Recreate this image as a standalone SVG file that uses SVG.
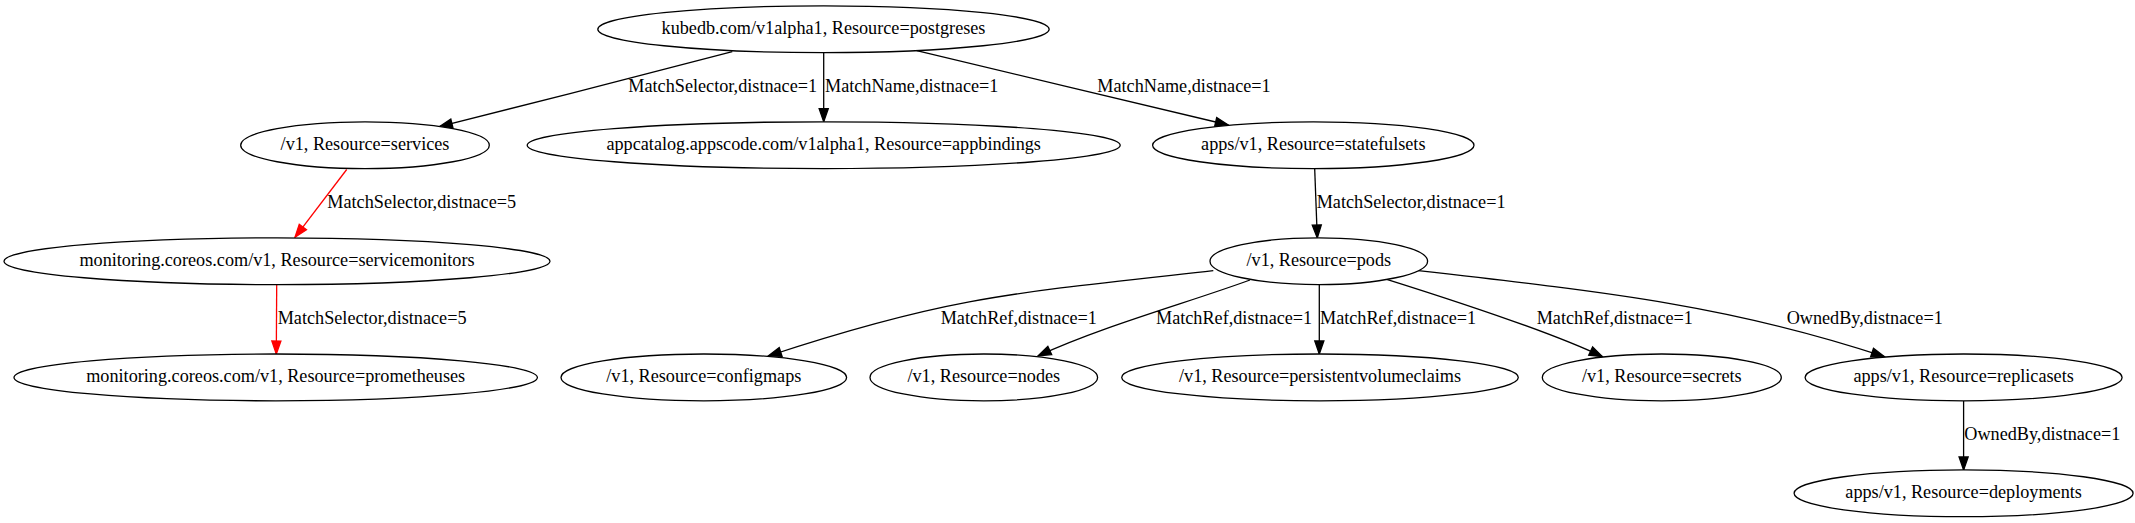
<svg xmlns="http://www.w3.org/2000/svg" width="2135" height="523" viewBox="0 0 2135 523">
<style>
  .node ellipse { fill: #ffffff; stroke: #000000; stroke-width: 1.3; }
  .node text { font-family: "Liberation Serif", "Times New Roman", serif; font-size: 18.2px; text-anchor: middle; fill: #000000; }
  .edge path { fill: none; stroke-width: 1.3; }
  .edge .blk { stroke: #000000; marker-end: url(#arrB); }
  .edge .red { stroke: #ff0000; marker-end: url(#arrR); }
  .elabel { font-family: "Liberation Serif", "Times New Roman", serif; font-size: 18.2px; fill: #000000; }
</style>
<defs>
  <marker id="arrB" markerUnits="userSpaceOnUse" markerWidth="16" markerHeight="12" refX="13" refY="4.55" orient="auto" overflow="visible">
    <path d="M0,0 L13,4.55 L0,9.1 Z" fill="#000000" stroke="#000000" stroke-width="1.3"/>
  </marker>
  <marker id="arrR" markerUnits="userSpaceOnUse" markerWidth="16" markerHeight="12" refX="13" refY="4.55" orient="auto" overflow="visible">
    <path d="M0,0 L13,4.55 L0,9.1 Z" fill="#ff0000" stroke="#ff0000" stroke-width="1.3"/>
  </marker>
</defs>
<rect x="0" y="0" width="2135" height="523" fill="#ffffff"/>

<g id="edges" class="edge">
  <path class="blk" d="M732.3,51.7 C650,73 530,104 439.3,126.7"/>
  <path class="blk" d="M823.7,52.7 L823.7,121.7"/>
  <path class="blk" d="M916.7,50.7 C1000,70.5 1150,106.5 1228.3,125"/>
  <path class="red" d="M346.7,169.5 L295,237.3"/>
  <path class="blk" d="M1314.7,169 L1317.3,238"/>
  <path class="red" d="M276.7,285 L276.3,354"/>
  <path class="blk" d="M1213.3,270.7 C1013.3,292.7 948.3,296.6 768.3,356"/>
  <path class="blk" d="M1250,280 C1190,302 1100,327 1038,356"/>
  <path class="blk" d="M1319.3,285 L1319.3,354"/>
  <path class="blk" d="M1386.7,279.3 C1456.7,301.3 1552.4,332.7 1602.4,356.7"/>
  <path class="blk" d="M1418.3,270.7 C1618.3,293.3 1734.4,307.2 1884.4,356.7"/>
  <path class="blk" d="M1963.6,401 L1963.6,470"/>
  <text class="elabel" x="628.3" y="92">MatchSelector,distnace=1</text>
  <text class="elabel" x="825" y="92">MatchName,distnace=1</text>
  <text class="elabel" x="1097.3" y="92">MatchName,distnace=1</text>
  <text class="elabel" x="327.3" y="207.8">MatchSelector,distnace=5</text>
  <text class="elabel" x="1316.7" y="207.8">MatchSelector,distnace=1</text>
  <text class="elabel" x="277.7" y="323.8">MatchSelector,distnace=5</text>
  <text class="elabel" x="940.7" y="323.8">MatchRef,distnace=1</text>
  <text class="elabel" x="1156" y="323.8">MatchRef,distnace=1</text>
  <text class="elabel" x="1320" y="323.8">MatchRef,distnace=1</text>
  <text class="elabel" x="1536.7" y="323.8">MatchRef,distnace=1</text>
  <text class="elabel" x="1786.7" y="323.8">OwnedBy,distnace=1</text>
  <text class="elabel" x="1964.3" y="439.8">OwnedBy,distnace=1</text>
</g>

<g id="postgreses" class="node">
  <ellipse cx="823.5" cy="29.2" rx="225.7" ry="23.4"/>
  <text x="823.5" y="34.2">kubedb.com/v1alpha1, Resource=postgreses</text>
</g>
<g id="services" class="node">
  <ellipse cx="365" cy="145.2" rx="124.3" ry="23.4"/>
  <text x="365" y="150.2">/v1, Resource=services</text>
</g>
<g id="appbindings" class="node">
  <ellipse cx="823.7" cy="145.2" rx="296.5" ry="23.4"/>
  <text x="823.7" y="150.2">appcatalog.appscode.com/v1alpha1, Resource=appbindings</text>
</g>
<g id="statefulsets" class="node">
  <ellipse cx="1313.3" cy="145.2" rx="160.7" ry="23.4"/>
  <text x="1313.3" y="150.2">apps/v1, Resource=statefulsets</text>
</g>
<g id="servicemonitors" class="node">
  <ellipse cx="277" cy="261.2" rx="273" ry="23.4"/>
  <text x="277" y="266.2">monitoring.coreos.com/v1, Resource=servicemonitors</text>
</g>
<g id="pods" class="node">
  <ellipse cx="1318.8" cy="261.2" rx="108.8" ry="23.4"/>
  <text x="1318.8" y="266.2">/v1, Resource=pods</text>
</g>
<g id="prometheuses" class="node">
  <ellipse cx="275.7" cy="377.4" rx="261.7" ry="23.4"/>
  <text x="275.7" y="382.4">monitoring.coreos.com/v1, Resource=prometheuses</text>
</g>
<g id="configmaps" class="node">
  <ellipse cx="703.8" cy="377.4" rx="142.8" ry="23.4"/>
  <text x="703.8" y="382.4">/v1, Resource=configmaps</text>
</g>
<g id="nodes" class="node">
  <ellipse cx="983.8" cy="377.4" rx="113.8" ry="23.4"/>
  <text x="983.8" y="382.4">/v1, Resource=nodes</text>
</g>
<g id="persistentvolumeclaims" class="node">
  <ellipse cx="1320" cy="377.4" rx="198.3" ry="23.4"/>
  <text x="1320" y="382.4">/v1, Resource=persistentvolumeclaims</text>
</g>
<g id="secrets" class="node">
  <ellipse cx="1661.8" cy="377.4" rx="119.5" ry="23.4"/>
  <text x="1661.8" y="382.4">/v1, Resource=secrets</text>
</g>
<g id="replicasets" class="node">
  <ellipse cx="1963.6" cy="377.4" rx="158.5" ry="23.4"/>
  <text x="1963.6" y="382.4">apps/v1, Resource=replicasets</text>
</g>
<g id="deployments" class="node">
  <ellipse cx="1963.6" cy="493.3" rx="169.5" ry="23.4"/>
  <text x="1963.6" y="498.3">apps/v1, Resource=deployments</text>
</g>
</svg>
